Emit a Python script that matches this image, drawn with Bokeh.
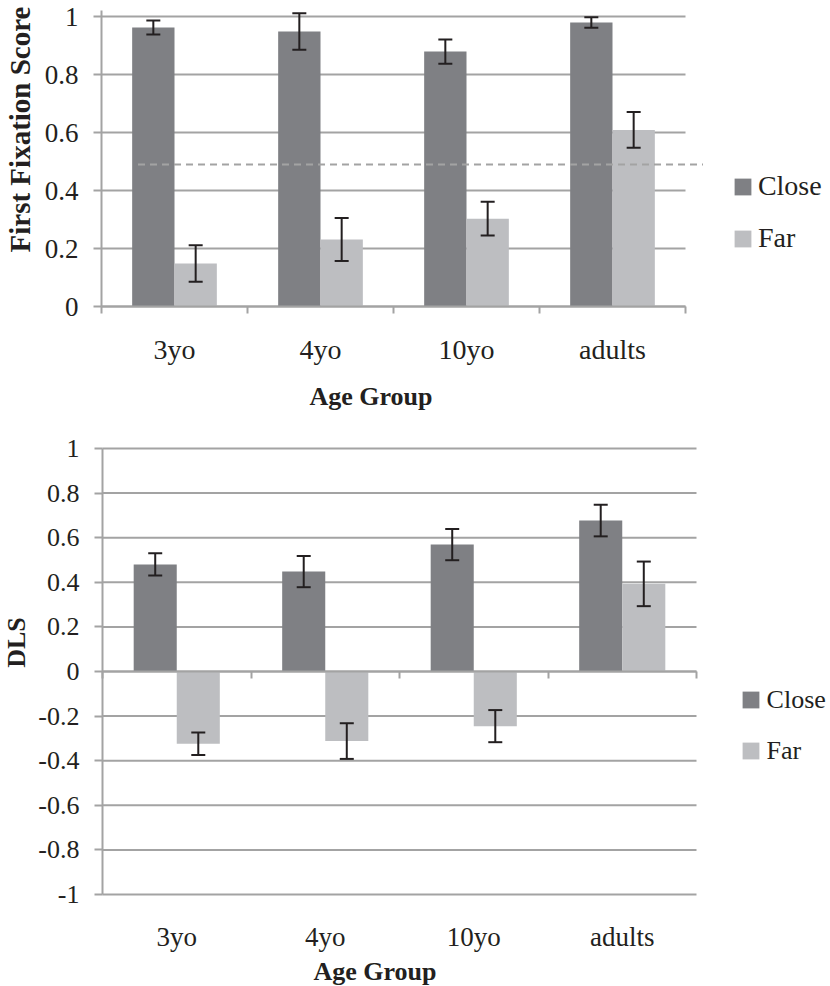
import math
import numpy as np
from bokeh.plotting import figure
from bokeh.models import (Range1d, FixedTicker, LinearAxis, Whisker, TeeHead,
                          ColumnDataSource, Legend, LegendItem, Label)
from bokeh.layouts import column
from bokeh.embed import file_html
from bokeh.resources import INLINE

# ---------------- data ----------------
GROUPS = ["3yo", "4yo", "10yo", "adults"]
SERIES = ["Close", "Far"]

FFS_CLOSE = [0.962, 0.948, 0.879, 0.979]
FFS_CLOSE_ERR = [0.024, 0.063, 0.042, 0.018]
FFS_FAR = [0.148, 0.231, 0.303, 0.609]
FFS_FAR_ERR = [0.063, 0.074, 0.058, 0.062]
FFS_CHANCE = 0.49

DLS_CLOSE = [0.480, 0.448, 0.569, 0.677]
DLS_CLOSE_ERR = [0.050, 0.070, 0.070, 0.071]
DLS_FAR = [-0.324, -0.312, -0.245, 0.393]
DLS_FAR_ERR = [0.050, 0.080, 0.072, 0.100]

Y1_TICKS = [0, 0.2, 0.4, 0.6, 0.8, 1]
Y1_LABELS = ["0", "0.2", "0.4", "0.6", "0.8", "1"]
Y2_TICKS = [-1, -0.8, -0.6, -0.4, -0.2, 0, 0.2, 0.4, 0.6, 0.8, 1]
Y2_LABELS = ["-1", "-0.8", "-0.6", "-0.4", "-0.2", "0", "0.2", "0.4", "0.6", "0.8", "1"]

Y1_TITLE = "First Fixation Score"
Y2_TITLE = "DLS"
X_TITLE = "Age Group"

# ---------------- style ----------------
FONT = "Liberation Serif"
TXT = "#231f20"
GRID = "#a3a3a3"
C_CLOSE = "#7f8084"
C_FAR = "#bdbec1"
ERR = "#231f20"
BAR_W = 0.29
W = 830

n = len(GROUPS)
centers = [float(c) for c in np.arange(n) + 0.5]
bounds = [float(b) for b in np.arange(n + 1)]
x_close = [c - BAR_W / 2 for c in centers]
x_far = [c + BAR_W / 2 for c in centers]


def make_fig(height, px_x0, px_x1, px_yhi, px_ylo, y_hi, y_lo):
    """Frame fills the canvas; ranges map group 0..n to px_x0..px_x1 and
    y_lo..y_hi to px_ylo..px_yhi (canvas pixel coordinates)."""
    sx = (px_x1 - px_x0) / n
    sy = (px_ylo - px_yhi) / (y_hi - y_lo)
    xr = Range1d(-px_x0 / sx, (W - px_x0) / sx)
    yr = Range1d(y_lo - (height - px_ylo) / sy, y_hi + px_yhi / sy)
    p = figure(width=W, height=height, x_range=xr, y_range=yr,
               output_backend="svg", toolbar_location=None, title=None,
               x_axis_location=None, y_axis_location=None,
               min_border=0, outline_line_color=None,
               background_fill_color="white", border_fill_color="white")
    p.xgrid.visible = False
    p.ygrid.visible = False
    return p


def add_yaxis(p, ticks, labels, size, bnds):
    p.segment(x0=[0] * len(ticks), x1=[n] * len(ticks), y0=ticks, y1=ticks,
              line_color=GRID, line_width=2)
    ax = LinearAxis(ticker=FixedTicker(ticks=ticks), fixed_location=0, bounds=bnds,
                    major_label_overrides={float(t): l for t, l in zip(ticks, labels)},
                    axis_line_color=GRID, axis_line_width=2,
                    major_tick_line_color=GRID, major_tick_line_width=2,
                    major_tick_out=8, major_tick_in=0,
                    minor_tick_line_color=None, minor_tick_out=0, minor_tick_in=0,
                    major_label_standoff=15, major_label_text_font=FONT,
                    major_label_text_font_size=size, major_label_text_color=TXT)
    p.add_layout(ax, "left")


def add_xaxis(p, at, line, labels, standoff, size):
    ticks = centers if labels else []
    ax = LinearAxis(ticker=FixedTicker(ticks=ticks, minor_ticks=bounds if line else []),
                    fixed_location=at, bounds=(0, n),
                    major_label_overrides={c: g for c, g in zip(centers, GROUPS)},
                    axis_line_color=GRID if line else None, axis_line_width=2,
                    major_tick_line_color=None, major_tick_out=0, major_tick_in=0,
                    minor_tick_line_color=GRID if line else None, minor_tick_line_width=2,
                    minor_tick_out=7 if line else 0, minor_tick_in=0,
                    major_label_standoff=standoff, major_label_text_font=FONT,
                    major_label_text_font_size=size, major_label_text_color=TXT)
    p.add_layout(ax, "below")


def add_bars(p, close, close_err, far, far_err):
    rc = p.vbar(x=x_close, top=close, bottom=0, width=BAR_W, fill_color=C_CLOSE, line_color=None)
    rf = p.vbar(x=x_far, top=far, bottom=0, width=BAR_W, fill_color=C_FAR, line_color=None)
    for xs, v, e in ((x_close, close, close_err), (x_far, far, far_err)):
        src = ColumnDataSource(dict(base=xs,
                                    upper=[a + b for a, b in zip(v, e)],
                                    lower=[a - b for a, b in zip(v, e)]))
        w = Whisker(source=src, base="base", upper="upper", lower="lower",
                    line_color=ERR, line_width=2, level="annotation",
                    upper_head=TeeHead(size=14, line_color=ERR, line_width=2),
                    lower_head=TeeHead(size=14, line_color=ERR, line_width=2))
        p.add_layout(w)
    return rc, rf


def add_legend(p, rc, rf, loc, size, spacing, standoff):
    lg = Legend(items=[LegendItem(label=SERIES[0], renderers=[rc]),
                       LegendItem(label=SERIES[1], renderers=[rf])],
                location=loc, orientation="vertical", padding=0, margin=0,
                spacing=spacing, glyph_width=21, glyph_height=21,
                label_standoff=standoff, label_text_font=FONT,
                label_text_font_size=size, label_text_color=TXT,
                border_line_color=None, background_fill_alpha=0)
    p.add_layout(lg)


def add_label(p, x, y, text, size, angle=0.0, baseline="middle"):
    p.add_layout(Label(x=x, y=y, text=text, angle=angle, text_align="center",
                       text_baseline=baseline, text_font=FONT,
                       text_font_style="bold", text_font_size=size,
                       text_color=TXT))


# ---------------- top chart ----------------
H1 = 420
p1 = make_fig(H1, 101, 685, 16, 306, 1.0, 0.0)
add_yaxis(p1, Y1_TICKS, Y1_LABELS, "27px", (0, 1.02))
add_xaxis(p1, 0, True, True, 20, "28px")
rc1, rf1 = add_bars(p1, FFS_CLOSE, FFS_CLOSE_ERR, FFS_FAR, FFS_FAR_ERR)
p1.line(x=[0.25, 4.12], y=[FFS_CHANCE, FFS_CHANCE], line_color=GRID,
        line_width=2, line_dash="7 5")
add_legend(p1, rc1, rf1, (731.9, 166), "28px", 20, 5)
add_label(p1, -0.5548, 0.6103, Y1_TITLE, "29px", angle=math.pi / 2)
add_label(p1, 1.8459, -0.3093, X_TITLE, "26px", baseline="alphabetic")

# ---------------- bottom chart ----------------
H2 = 986 - H1
p2 = make_fig(H2, 102, 696, 28, 474, 1.0, -1.0)
add_yaxis(p2, Y2_TICKS, Y2_LABELS, "26px", (-1, 1))
add_xaxis(p2, 0, True, False, 0, "26px")
add_xaxis(p2, -1, False, True, 27, "27px")
rc2, rf2 = add_bars(p2, DLS_CLOSE, DLS_CLOSE_ERR, DLS_FAR, DLS_FAR_ERR)
add_legend(p2, rc2, rf2, (739.6, 220.5), "26px", 21, 6)
add_label(p2, -0.5758, 0.130, Y2_TITLE, "26px", angle=math.pi / 2)
add_label(p2, 1.835, -1.345, X_TITLE, "26px", baseline="alphabetic")

layout = column(p1, p2, spacing=0)
open("out.html", "w").write(file_html(layout, INLINE))
